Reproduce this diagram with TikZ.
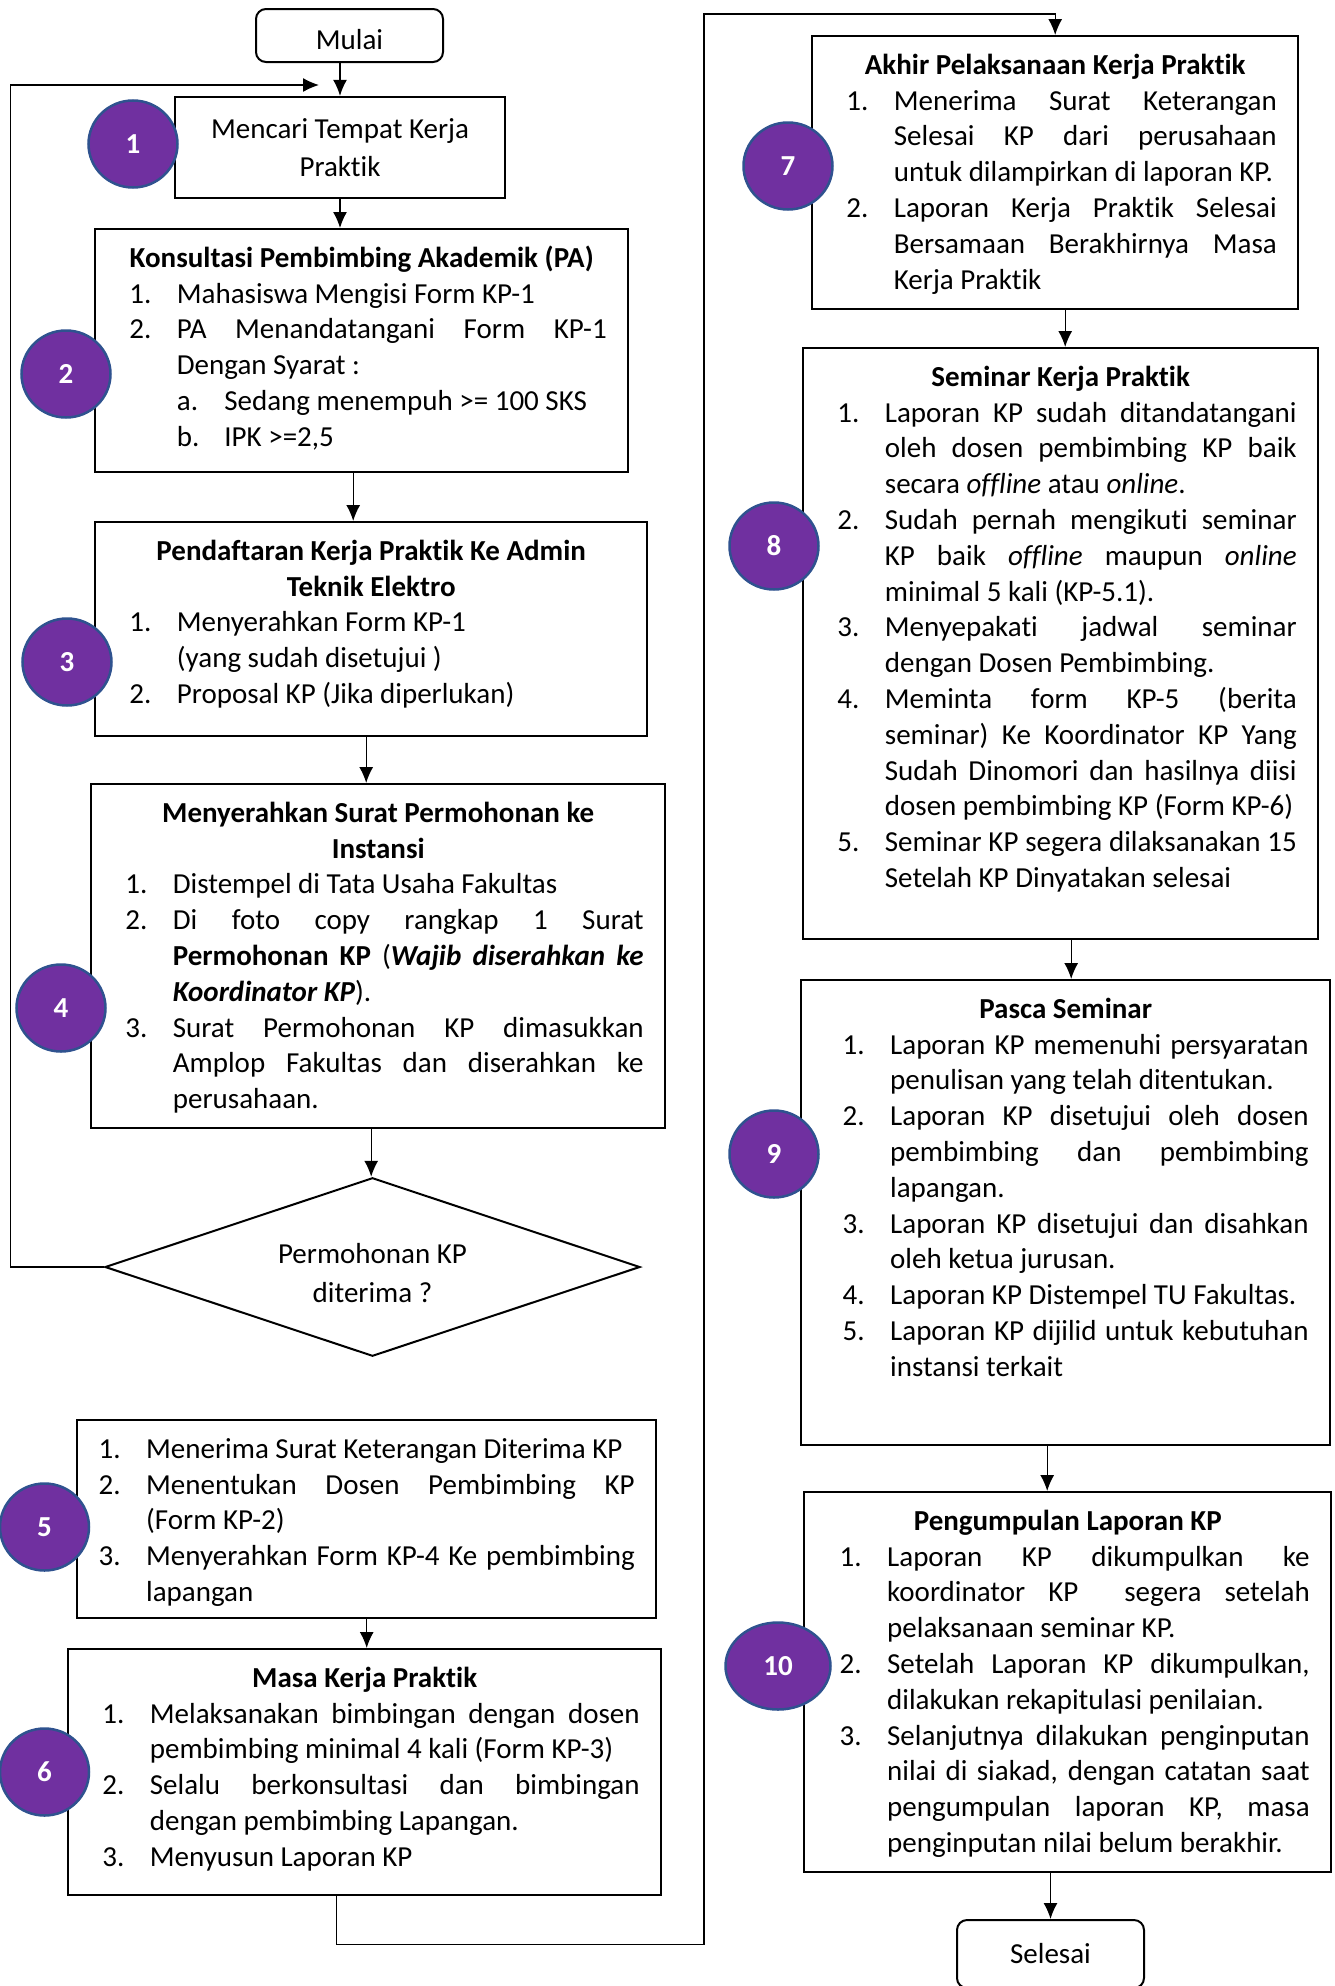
\documentclass[tikz,border=0pt]{standalone}
\usepackage{fontspec}
\setmainfont{Carlito}[Ligatures=NoCommon]
\usetikzlibrary{arrows.meta,shapes.geometric}
\definecolor{kpungu}{HTML}{7030A0}
\definecolor{kpbiru}{HTML}{2F528F}
\newlength{\kplead}\setlength{\kplead}{12.7pt}
\newlength{\kphang}\setlength{\kphang}{47.5pt}
\newcommand{\kphead}[1]{{\centering\bfseries\strut #1\par}}
\newcommand{\kpitem}[2]{\par\leftskip=\kplead\hangindent=\kphang\hangafter=1\noindent\strut\makebox[\kphang][l]{#1}#2\par}
\newcommand{\kpsub}[2]{\par\leftskip=\dimexpr\kplead+\kphang\relax\hangindent=\kphang\hangafter=1\noindent\strut\makebox[\kphang][l]{#1}#2\par}
\newcommand{\kpbody}[3]{\parbox[c][#2][t]{#1}{\hyphenpenalty=10000\exhyphenpenalty=10000\vspace*{13pt}#3}}
\begin{document}
\begin{tikzpicture}[x=1pt,y=-1pt,
	every node/.append style={font=\fontsize{29}{35.8}\selectfont},
	stepbox/.style={draw,line width=2.4pt,inner xsep=21.5pt,inner ysep=0pt,anchor=north west},
	badge/.style={ellipse,fill=kpungu,draw=kpbiru,line width=2.5pt,minimum width=89pt,minimum height=87pt,inner sep=0pt,text=white,font=\fontsize{29}{35.8}\selectfont\bfseries},
	terminal/.style={draw,rounded corners=10pt,line width=2pt,minimum width=187pt,inner sep=0pt},
	decision/.style={diamond,draw,line width=2pt,aspect=3,inner sep=0pt,minimum width=535pt,minimum height=178.5pt,align=center},
	conn/.style={line width=1.3pt,-{Latex[length=16pt,width=14pt]}}]
	\useasboundingbox (0,0) rectangle (1335,1986);
	\fill[white] (0,0) rectangle (1335,1986);
	\clip (0,0) rectangle (1335,1986);
	% kolom kiri
	\node[terminal,minimum height=53pt,text height=28pt,text depth=0pt] (mulai) at (349.5,35.5) {Mulai};
	\node[draw,line width=2.4pt,minimum width=330pt,minimum height=101pt,inner sep=0pt,align=center] (b1) at (340,147.5) {Mencari Tempat Kerja\\[2pt]Praktik};
	\node[stepbox] (b2) at (94,228) {\kpbody{490pt}{243pt}{%
		\kphead{Konsultasi Pembimbing Akademik (PA)}
		\kpitem{1.}{Mahasiswa Mengisi Form KP-1}
		\kpitem{2.}{PA Menandatangani Form KP-1 \linebreak Dengan Syarat :}
		\kpsub{a.}{Sedang menempuh >= 100 SKS}
		\kpsub{b.}{IPK >=2,5}}};
	\node[stepbox] (b3) at (94,521) {\kpbody{509pt}{214pt}{%
		\kphead{Pendaftaran Kerja Praktik Ke Admin\\Teknik Elektro}
		\kpitem{1.}{Menyerahkan Form KP-1\\(yang sudah disetujui )}
		\kpitem{2.}{Proposal KP (Jika diperlukan)}}};
	\node[stepbox] (b4) at (90,783) {\kpbody{531pt}{344pt}{%
		\kphead{Menyerahkan Surat Permohonan ke\\Instansi}
		\kpitem{1.}{Distempel di Tata Usaha Fakultas}
		\kpitem{2.}{Di foto copy rangkap 1 Surat \linebreak \textbf{Permohonan KP} (\textbf{\textit{Wajib diserahkan ke}} \linebreak \textbf{\textit{Koordinator KP}}).}
		\kpitem{3.}{Surat Permohonan KP dimasukkan \linebreak Amplop Fakultas dan diserahkan ke \linebreak perusahaan.}}};
	\node[decision] (dec) at (372.5,1267) {\rule{0pt}{32pt}Permohonan KP\\[3pt]diterima ?};
	\node[stepbox] (b5) at (76,1419) {\kpbody{536pt}{198pt}{\setlength{\kplead}{0pt}%
		\kpitem{1.}{Menerima Surat Keterangan Diterima KP}
		\kpitem{2.}{Menentukan Dosen Pembimbing KP \linebreak (Form KP-2)}
		\kpitem{3.}{Menyerahkan Form KP-4 Ke pembimbing \linebreak lapangan}}};
	\node[stepbox] (b6) at (67,1648) {\kpbody{550pt}{246pt}{%
		\kphead{Masa Kerja Praktik}
		\kpitem{1.}{Melaksanakan bimbingan dengan dosen \linebreak pembimbing minimal 4 kali (Form KP-3)}
		\kpitem{2.}{Selalu berkonsultasi dan bimbingan \linebreak dengan pembimbing Lapangan.}
		\kpitem{3.}{Menyusun Laporan KP}}};
	% kolom kanan
	\node[stepbox] (b7) at (811,35) {\kpbody{443pt}{273pt}{%
		\kphead{Akhir Pelaksanaan Kerja Praktik}
		\kpitem{1.}{Menerima Surat Keterangan \linebreak Selesai KP dari perusahaan \linebreak untuk dilampirkan di laporan KP.}
		\kpitem{2.}{Laporan Kerja Praktik Selesai \linebreak Bersamaan Berakhirnya Masa \linebreak Kerja Praktik}}};
	\node[stepbox] (b8) at (802,347) {\kpbody{472pt}{591pt}{%
		\kphead{Seminar Kerja Praktik}
		\kpitem{1.}{Laporan KP sudah ditandatangani \linebreak oleh dosen pembimbing KP baik \linebreak secara \textit{offline} atau \textit{online}.}
		\kpitem{2.}{Sudah pernah mengikuti seminar \linebreak KP baik \textit{offline} maupun \textit{online} \linebreak minimal 5 kali (KP-5.1).}
		\kpitem{3.}{Menyepakati jadwal seminar \linebreak dengan Dosen Pembimbing.}
		\kpitem{4.}{Meminta form KP-5 (berita \linebreak seminar) Ke Koordinator KP Yang \linebreak Sudah Dinomori dan hasilnya diisi \linebreak dosen pembimbing KP (Form KP-6)}
		\kpitem{5.}{Seminar KP segera dilaksanakan 15 \linebreak Setelah KP Dinyatakan selesai}}};
	\node[stepbox] (b9) at (800,979) {\kpbody{486pt}{465pt}{\setlength{\kplead}{20pt}%
		\kphead{Pasca Seminar}
		\kpitem{1.}{Laporan KP memenuhi persyaratan \linebreak penulisan yang telah ditentukan.}
		\kpitem{2.}{Laporan KP disetujui oleh dosen \linebreak pembimbing dan pembimbing \linebreak lapangan.}
		\kpitem{3.}{Laporan KP disetujui dan disahkan \linebreak oleh ketua jurusan.}
		\kpitem{4.}{Laporan KP Distempel TU Fakultas.}
		\kpitem{5.}{Laporan KP dijilid untuk kebutuhan \linebreak instansi terkait}}};
	\node[stepbox] (b10) at (803,1491) {\kpbody{484pt}{380pt}{\setlength{\kplead}{14pt}%
		\kphead{Pengumpulan Laporan KP}
		\kpitem{1.}{Laporan KP dikumpulkan ke \linebreak koordinator KP \ segera setelah \linebreak pelaksanaan seminar KP.}
		\kpitem{2.}{Setelah Laporan KP dikumpulkan, \linebreak dilakukan rekapitulasi penilaian.}
		\kpitem{3.}{Selanjutnya dilakukan penginputan \linebreak nilai di siakad, dengan catatan saat \linebreak pengumpulan laporan KP, masa \linebreak penginputan nilai belum berakhir.}}};
	\node[terminal,minimum height=68pt] (fin) at (1050.5,1954) {Selesai};
	% nomor langkah
	\node[badge] (n1) at (133,144) {1};
	\node[badge] (n2) at (66,374) {2};
	\node[badge] (n3) at (67,662) {3};
	\node[badge] (n4) at (61,1008) {4};
	\node[badge] (n5) at (44.5,1527) {5};
	\node[badge] (n6) at (44.5,1772) {6};
	\node[badge] (n7) at (788,166) {7};
	\node[badge] (n8) at (774,546) {8};
	\node[badge] (n9) at (774,1154) {9};
	\node[badge,minimum width=105pt] (n10) at (778,1666) {10};
	% panah
	\coordinate (loopend) at (319,85);
	\coordinate (a23) at ([xshift=-8.5pt]b2.south);
	\coordinate (a34) at ([xshift=-5pt]b3.south);
	\coordinate (a4d) at ([xshift=-7pt]b4.south);
	\coordinate (a67) at ([xshift=-28pt]b6.south);
	\coordinate (a78) at ([xshift=10pt]b7.south);
	\coordinate (a89) at ([xshift=10.5pt]b8.south);
	\coordinate (a910) at ([xshift=-18.5pt]b9.south);
	\draw[conn] (mulai.south -| b1.north) -- (b1.north);
	\draw[conn] (dec.west) -- ++(-93.6,0) |- (loopend);
	\draw[conn] (b1.south) -- (b1.south |- b2.north);
	\draw[conn] (a23) -- (a23 |- b3.north);
	\draw[conn] (a34) -- (a34 |- b4.north);
	\draw[conn] (a4d) -- (a4d |- dec.north);
	\draw[conn] (b5.south) -- (b5.south |- b6.north);
	\draw[conn] (a67) -- ++(0,48) -| (704,14) -| (b7.north);
	\draw[conn] (a78) -- (a78 |- b8.north);
	\draw[conn] (a89) -- (a89 |- b9.north);
	\draw[conn] (a910) -- (a910 |- b10.north);
	\draw[conn] (b10.south -| fin.north) -- (fin.north);
\end{tikzpicture}
\end{document}
